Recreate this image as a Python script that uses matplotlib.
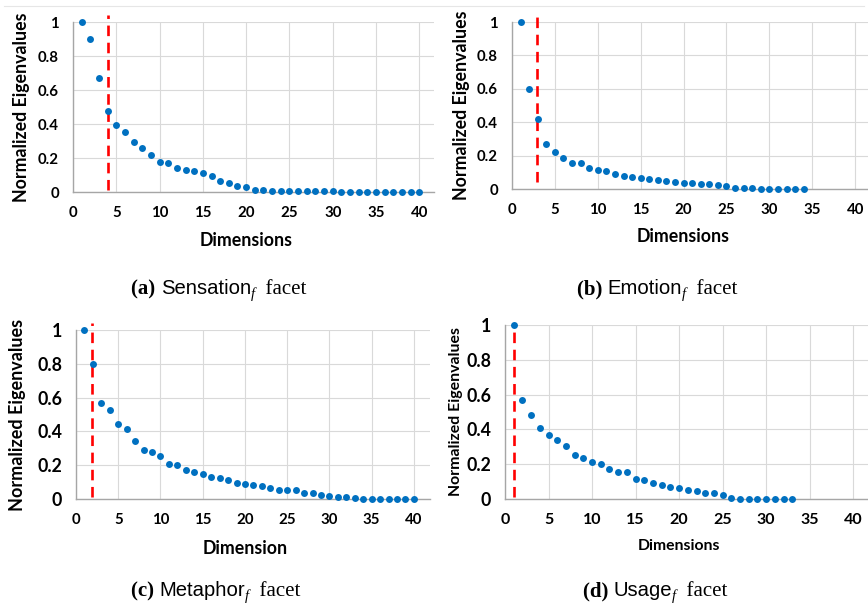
import matplotlib
matplotlib.use("Agg")
import matplotlib.pyplot as plt
from matplotlib import font_manager

# ---- data ----
dims_a = list(range(1, 41))
eig_a = [1.0, 0.898, 0.67, 0.477, 0.396, 0.355, 0.293, 0.258, 0.219, 0.174,
         0.168, 0.141, 0.131, 0.125, 0.113, 0.092, 0.066, 0.053, 0.033, 0.027,
         0.012, 0.010, 0.008, 0.008, 0.006, 0.006, 0.004, 0.004, 0.003, 0.003,
         0.002, 0.002, 0.002, 0.002, 0.002, 0.002, 0.002, 0.002, 0.002, 0.002]
cut_a = 4

dims_b = list(range(1, 35))
eig_b = [1.0, 0.600, 0.422, 0.267, 0.219, 0.185, 0.157, 0.155, 0.124, 0.112,
         0.110, 0.090, 0.078, 0.072, 0.066, 0.060, 0.054, 0.048, 0.044, 0.038,
         0.036, 0.032, 0.028, 0.024, 0.016, 0.006, 0.004, 0.004, 0.002, 0.002,
         0.002, 0.002, 0.002, 0.002]
cut_b = 2.9

dims_c = list(range(1, 41))
eig_c = [1.0, 0.80, 0.569, 0.524, 0.443, 0.414, 0.345, 0.292, 0.276, 0.255,
         0.210, 0.200, 0.173, 0.159, 0.149, 0.131, 0.127, 0.110, 0.094, 0.090,
         0.084, 0.076, 0.065, 0.055, 0.053, 0.051, 0.037, 0.033, 0.024, 0.018,
         0.014, 0.010, 0.004, 0.002, 0.002, 0.002, 0.002, 0.002, 0.002, 0.002]
cut_c = 1.9

dims_d = list(range(1, 34))
eig_d = [1.0, 0.569, 0.485, 0.406, 0.366, 0.339, 0.307, 0.253, 0.236, 0.211,
         0.203, 0.174, 0.155, 0.153, 0.117, 0.109, 0.090, 0.082, 0.069, 0.061,
         0.050, 0.044, 0.036, 0.033, 0.025, 0.004, 0.002, 0.001, 0.001, 0.001,
         0.001, 0.001, 0.001]
cut_d = 1

xticks = [0, 5, 10, 15, 20, 25, 30, 35, 40]
yticks = [0, 0.2, 0.4, 0.6, 0.8, 1.0]
ytick_labels = ["0", "0.2", "0.4", "0.6", "0.8", "1"]

BLUE = "#0070C0"
GRID = "#D9D9D9"
AXC = "#A6A6A6"
FONT = "Lato"

fig = plt.figure(figsize=(8.68, 6.06), dpi=100)
W, H = 868, 606

def px_axes(l, r, t, b):
    return fig.add_axes([l / W, 1 - b / H, (r - l) / W, (b - t) / H])

panels = [
    # dims, eig, cut, box(l,r,t,b), xmax, xlabel, xlab_y, ylab_x, sizes(ytick, xtick, ylab, xlab), cut range
    (dims_a, eig_a, cut_a, (73, 434, 22, 192), 41.7, "Dimensions", 240, 22, (10.8, 10.8, 12.8, 12.8), (0.01, 1.04)),
    (dims_b, eig_b, cut_b, (512, 868, 22, 189), 41.5, "Dimensions", 236, 461, (10.8, 10.8, 12.8, 12.8), (0.04, 1.05)),
    (dims_c, eig_c, cut_c, (76, 430, 330, 499), 41.9, "Dimension", 548, 18, (12.8, 10.8, 13, 12.8), (0.01, 1.04)),
    (dims_d, eig_d, cut_d, (505, 868, 325, 499), 41.7, "Dimensions", 546, 456, (12.8, 11.5, 11.4, 11.3), (0.01, 1.0)),
]

for dims, eig, cut, box, xmax, xlab, xlab_y, ylab_x, sz, crange in panels:
    ax = px_axes(*box)
    ax.set_xlim(0, xmax)
    ax.set_ylim(0, 1)
    ax.set_xticks(xticks)
    ax.set_yticks(yticks)
    ax.set_yticklabels(ytick_labels)
    ax.grid(True, color=GRID, lw=0.8)
    ax.set_axisbelow(True)
    for s in ["top", "right"]:
        ax.spines[s].set_visible(False)
    for s in ["left", "bottom"]:
        ax.spines[s].set_color(AXC)
        ax.spines[s].set_linewidth(1.0)
    ax.tick_params(length=0)
    ax.tick_params(axis="x", pad=10, labelsize=sz[1])
    ax.tick_params(axis="y", pad=10, labelsize=sz[0])
    for lab in ax.get_xticklabels() + ax.get_yticklabels():
        lab.set_fontfamily(FONT)
        lab.set_fontweight("bold")
    ax.plot([cut, cut], list(crange), color="#FF0000", ls=(0, (4, 2.5)), lw=1.9,
            clip_on=False, zorder=3)
    ax.plot(dims, eig, "o", color=BLUE, ms=5, mec="none", clip_on=False, zorder=4)
    fig.text((box[0] + (box[0] + 40 * (box[1] - box[0]) / xmax)) / 2 / W, 1 - xlab_y / H, xlab,
             ha="center", va="center", fontsize=sz[3], fontweight="bold", family=FONT)
    fig.text(ylab_x / W, 1 - (box[2] + box[3]) / 2 / H, "Normalized Eigenvalues",
             ha="center", va="center", rotation=90, fontsize=sz[2], fontweight="bold", family=FONT)

# top border line of the upper charts
fig.add_artist(plt.Line2D([0.005, 0.995], [1 - 6 / H, 1 - 6 / H], color="#E6E6E6", lw=0.8))

# ---- captions ----
SERIF = "Liberation Serif"
names = [f.name for f in font_manager.fontManager.ttflist]
NARROW = "Liberation Sans Narrow" if "Liberation Sans Narrow" in names else "Liberation Sans"

captions = [
    ("(a)", "Sensation", 219, 294),
    ("(b)", "Emotion", 657, 294),
    ("(c)", "Metaphor", 216, 596),
    ("(d)", "Usage", 655, 596),
]

renderer = fig.canvas.get_renderer()
CS = 15
for tag, name, cx, base in captions:
    pieces = [
        (tag + " ", dict(family=SERIF, fontweight="bold", fontsize=CS), 0),
        (name, dict(family=NARROW, fontsize=CS * 0.97), 0),
        ("f", dict(family=SERIF, style="italic", fontsize=CS * 0.7), -4),
        ("  facet", dict(family=SERIF, fontsize=CS), 0),
    ]
    texts = []
    total = 0
    for s, kw, dy in pieces:
        t = fig.text(0, 0, s, va="baseline", ha="left", **kw)
        w = t.get_window_extent(renderer).width
        texts.append((t, w, dy))
        total += w
    x = cx - total / 2
    for t, w, dy in texts:
        t.set_position((x / W, 1 - (base - dy) / H))
        x += w

fig.savefig("out.png", dpi=100)
